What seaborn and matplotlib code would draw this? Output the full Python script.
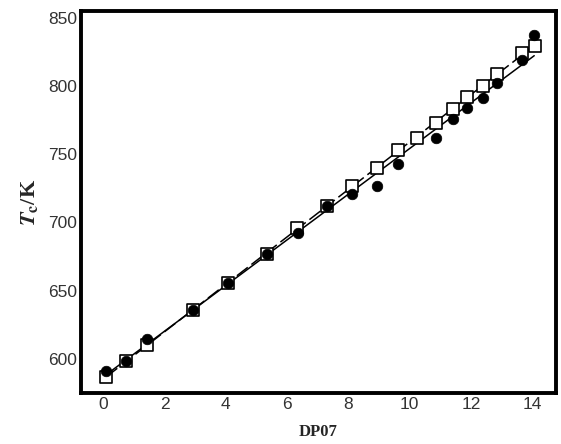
import matplotlib
matplotlib.use("Agg")
import matplotlib.pyplot as plt
import seaborn as sns
import pandas as pd
import numpy as np

# Data
sq_x = [0.10, 0.73, 1.44, 2.94, 4.07, 5.34, 6.32, 7.30, 8.12, 8.93, 9.63, 10.24, 10.87, 11.43, 11.89, 12.39, 12.85, 13.66, 14.10]
sq_y = [587, 599, 610, 636, 656, 677, 696, 712, 727, 740, 753, 762, 773, 783, 792, 800, 809, 824, 829]
ci_x = [0.08, 0.73, 1.42, 2.94, 4.07, 5.34, 6.34, 7.30, 8.12, 8.93, 9.63, 10.87, 11.43, 11.89, 12.39, 12.85, 13.66, 14.07]
ci_y = [591, 599, 615, 636, 656, 677, 692, 712, 721, 727, 743, 762, 776, 784, 791, 802, 819, 837]

x_ticks = [0, 2, 4, 6, 8, 10, 12, 14]
y_ticks = [600, 650, 700, 750, 800, 850]

sq = pd.DataFrame({"x": sq_x, "y": sq_y})
ci = pd.DataFrame({"x": ci_x, "y": ci_y})

sns.set_style("white")
plt.rcParams["font.family"] = ["Liberation Sans", "DejaVu Sans"]
plt.rcParams["mathtext.fontset"] = "stix"

fig = plt.figure(figsize=(5.61, 4.44), dpi=100)
ax = fig.add_axes([0.1444, 0.1142, 0.991 - 0.1444, 0.9759 - 0.1142])

# fit lines
sns.regplot(data=ci, x="x", y="y", scatter=False, ci=None, ax=ax,
            line_kws=dict(color="black", lw=1.1, ls="-", zorder=1))
sns.regplot(data=sq, x="x", y="y", scatter=False, ci=None, ax=ax,
            line_kws=dict(color="black", lw=1.1, ls=(0, (9, 3)), zorder=1))

sns.scatterplot(data=sq, x="x", y="y", marker="s", s=72, color="white",
                edgecolor="black", linewidth=1.2, ax=ax, zorder=2)
sns.scatterplot(data=ci, x="x", y="y", marker="o", s=58, color="black",
                edgecolor="black", linewidth=0.5, ax=ax, zorder=3)

ax.set_xlim(-0.73, 14.78)
ax.set_ylim(575, 855)
ax.set_xticks(x_ticks)
ax.set_yticks(y_ticks)
ax.tick_params(direction="in", length=3.5, width=2.5, labelsize=12.5, color="black",
               labelcolor="#333333", pad=3)
for s in ax.spines.values():
    s.set_linewidth(2.8)
    s.set_color("black")

ax.set_xlabel("DP07", fontfamily="Liberation Serif", fontweight="bold", fontsize=12, labelpad=8)
ax.set_ylabel(r"$\mathbfit{T}_{\mathbf{c}}$/K", fontfamily="Liberation Serif", fontweight="bold",
              fontsize=16, labelpad=6)

fig.savefig("out.png", dpi=100)
